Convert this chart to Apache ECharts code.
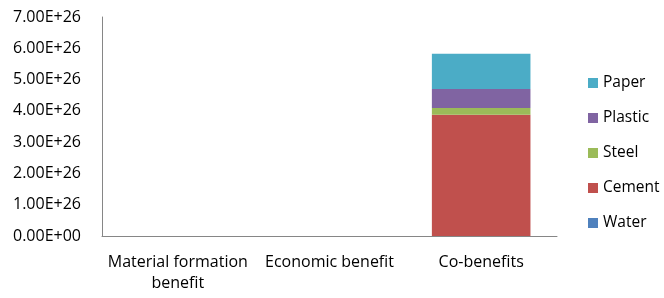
<!DOCTYPE html>
<html>
<head>
<meta charset="utf-8">
<script src="https://cdn.jsdelivr.net/npm/echarts@6/dist/echarts.min.js"></script>
<style>
  html, body { margin: 0; padding: 0; background: #fff; }
  #chart { width: 664px; height: 298px; }
</style>
</head>
<body>
<div id="chart"></div>
<script>
const categories = ['Material formation\nbenefit', 'Economic benefit', 'Co-benefits']
const water = [0, 0, 0.002e26]
const cement = [0, 0, 3.87e26]
const steel = [0, 0, 0.22e26]
const plastic = [0, 0, 0.61e26]
const paper = [0, 0, 1.12e26]
const legendOrder = ['Paper', 'Plastic', 'Steel', 'Cement', 'Water']

const fmt = (v) => {
  if (v === 0) return '0.00E+00'
  const [m, e] = v.toExponential(2).split('e')
  const sign = e[0] === '-' ? '-' : '+'
  const digits = e.replace(/[+-]/, '').padStart(2, '0')
  return m + 'E' + sign + digits
}

const chart = echarts.init(document.getElementById('chart'))

const mk = (name, data, color) => ({
  name,
  type: 'bar',
  stack: 'total',
  barWidth: '65%',
  itemStyle: { color },
  data
})

chart.setOption({
  animation: false,
  textStyle: { fontFamily: 'Open Sans' },
  grid: { left: 102, top: 17, right: 107, bottom: 62 },
  legend: {
    orient: 'vertical',
    left: 583,
    top: 70,
    itemWidth: 10,
    itemHeight: 10,
    itemGap: 19,
    icon: 'rect',
    data: legendOrder,
    textStyle: { fontSize: 15.5, color: '#000', fontFamily: 'Open Sans' }
  },
  xAxis: {
    type: 'category',
    data: categories,
    axisLine: { lineStyle: { color: '#868686', width: 1 } },
    axisTick: { show: false },
    axisLabel: {
      color: '#000',
      fontSize: 16,
      margin: 16,
      lineHeight: 21,
      interval: 0
    }
  },
  yAxis: {
    type: 'value',
    min: 0,
    max: 7e26,
    interval: 1e26,
    axisLine: { show: true, lineStyle: { color: '#868686', width: 1 } },
    axisTick: { show: false },
    splitLine: { show: false },
    axisLabel: {
      color: '#000',
      fontSize: 16,
      margin: 21,
      formatter: fmt
    }
  },
  series: [
    mk('Water', water, '#4f81bd'),
    mk('Cement', cement, '#c0504d'),
    mk('Steel', steel, '#9bbb59'),
    mk('Plastic', plastic, '#8064a2'),
    mk('Paper', paper, '#4bacc6')
  ]
})
</script>
</body>
</html>
